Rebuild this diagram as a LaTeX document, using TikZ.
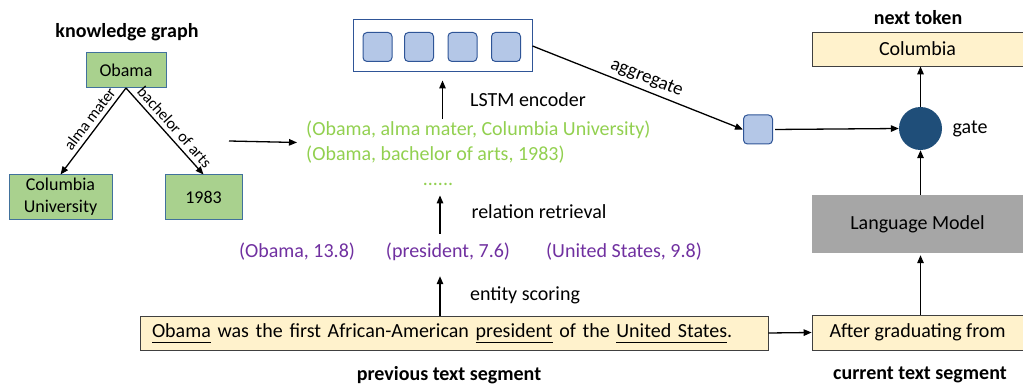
\documentclass[tikz,border=0pt]{standalone}
\usepackage{fontspec}
\setmainfont{Carlito}
\usetikzlibrary{arrows.meta,calc}
\definecolor{kgfill}{HTML}{A9D18E}
\definecolor{kgborder}{HTML}{41719C}
\definecolor{trip}{HTML}{92D050}
\definecolor{ent}{HTML}{7030A0}
\definecolor{yel}{HTML}{FFF2CC}
\definecolor{lmgray}{HTML}{A6A6A6}
\definecolor{gatec}{HTML}{1F4E79}
\definecolor{cellfill}{HTML}{B4C7E7}
\definecolor{cellborder}{HTML}{2F5597}
\newcommand\ulx[1]{\underline{\vphantom{p}#1}}
\begin{document}
\begin{tikzpicture}[x=1pt,y=-1pt,
 arr/.style={line width=1.3pt,-{Triangle[length=8pt,width=6.5pt]}},
 kg/.style={draw=kgborder,fill=kgfill,line width=1pt,font=\fontsize{18}{22}\selectfont,align=center,inner sep=0pt},
 txt/.style={font=\fontsize{20}{24}\selectfont},
 ttl/.style={font=\fontsize{20}{24}\selectfont\bfseries},
 seg/.style={draw=black!75,fill=yel,line width=0.8pt,inner sep=0pt,font=\fontsize{20}{24}\selectfont},
 cell/.style={draw=cellborder,fill=cellfill,rounded corners=4pt,minimum size=29pt,inner sep=0pt,line width=1pt},
 lbl/.style={font=\fontsize{16}{18}\selectfont,inner sep=4pt},
 etxt/.style={font=\fontsize{20}{24}\selectfont,text=ent,inner sep=0pt,minimum height=20pt},
]
\useasboundingbox (0,0) rectangle (1023,385);
\coordinate (colc) at (440,0);

% knowledge graph
\node[ttl] (kgt) at (127,32) {knowledge graph};
\node[kg,minimum width=80pt,minimum height=35pt] (obama) at (126,70) {Obama};
\node[kg,minimum width=103pt,minimum height=44pt] (colu) at (60.5,197) {Columbia\\University};
\node[kg,minimum width=77pt,minimum height=44pt] (y1983) at (203.5,197) {1983};
\draw[arr] (obama.south) -- node[lbl,sloped,above,pos=0.43] {alma mater} (colu.north);
\draw[arr] (obama.south) -- node[lbl,sloped,above,pos=0.53] {bachelor of arts} (y1983.north);

% triples
\coordinate (kgout) at (229,141);
\node[text=trip,align=left,anchor=west,inner xsep=9pt,inner ysep=2pt,font=\fontsize{20}{25}\selectfont] (trips) at (297,142.5)
  {(Obama, alma mater, Columbia University)\\(Obama, bachelor of arts, 1983)};
\draw[arr] (kgout) -- (trips.west);

% LSTM
\node[draw=cellborder,line width=1pt,minimum width=179pt,minimum height=52pt,inner sep=0pt] (lstm) at (442.5,46) {};
\node[cell] (c1) at (377.5,47) {};
\node[cell] (c2) at (419,47) {};
\node[cell] (c3) at (462.5,47) {};
\node[cell] (c4) at (506,47) {};
\draw[arr,shorten >=8pt] (trips.north -| lstm.south) -- (lstm.south);
\node[txt] (lstml) at (528,100) {LSTM encoder};

% dots and entities
\node[txt,text=trip,inner sep=0pt] (dots) at (438,184) {......};
\node[etxt] (eob) at (297,252) {(Obama, 13.8)};
\node[etxt] (pres) at (448,252) {(president, 7.6)};
\node[etxt] (eus) at (624,252) {(United States, 9.8)};
\draw[arr,shorten <=8pt,shorten >=10pt] (pres.north -| colc) -- (dots.south -| colc);
\node[txt] (rrl) at (539,212) {relation retrieval};

% previous segment
\node[seg,text width=604pt,inner xsep=12pt,minimum height=34pt,align=left] (prev) at (454,333)
  {\ulx{Obama} was the first African-American \ulx{president} of the \ulx{United States}.};
\draw[arr,shorten >=14pt] (prev.north -| colc) -- (pres.south -| colc);
\node[txt] (esl) at (525,295) {entity scoring};
\node[ttl] (prevt) at (449,375) {previous text segment};

% aggregate and gate
\node[cell] (agg) at (758,129.5) {};
\draw[arr] (lstm.east) -- node[sloped,above,pos=0.52,inner sep=4pt,font=\fontsize{19}{22}\selectfont] {aggregate} (agg.west);
\node[circle,fill=gatec,minimum size=43pt,inner sep=0pt] (gate) at (920.5,128.5) {};
\node[txt] (gatel) at (970,129) {gate};
\draw[arr,shorten <=2pt] (agg.east) -- (gate.west);

% right column
\node[ttl] (nextt) at (918,18) {next token};
\node[seg,minimum width=211pt,minimum height=34pt] (next) at (917.5,49) {Columbia};
\draw[arr] (gate.north) -- (next.south -| gate.north);
\node[fill=lmgray,minimum width=211pt,minimum height=58pt,inner sep=0pt,txt] (lm) at (917.5,224) {Language Model};
\draw[arr] (lm.north -| gate.south) -- (gate.south);
\node[seg,minimum width=211pt,minimum height=35pt] (cur) at (917.5,332.5) {After graduating from};
\draw[arr,shorten >=2pt] (cur.north -| gate.south) -- (lm.south -| gate.south);
\node[ttl] (curt) at (920,375) {current text segment};
\draw[arr] (prev.east) -- (cur.west);
\end{tikzpicture}
\end{document}
